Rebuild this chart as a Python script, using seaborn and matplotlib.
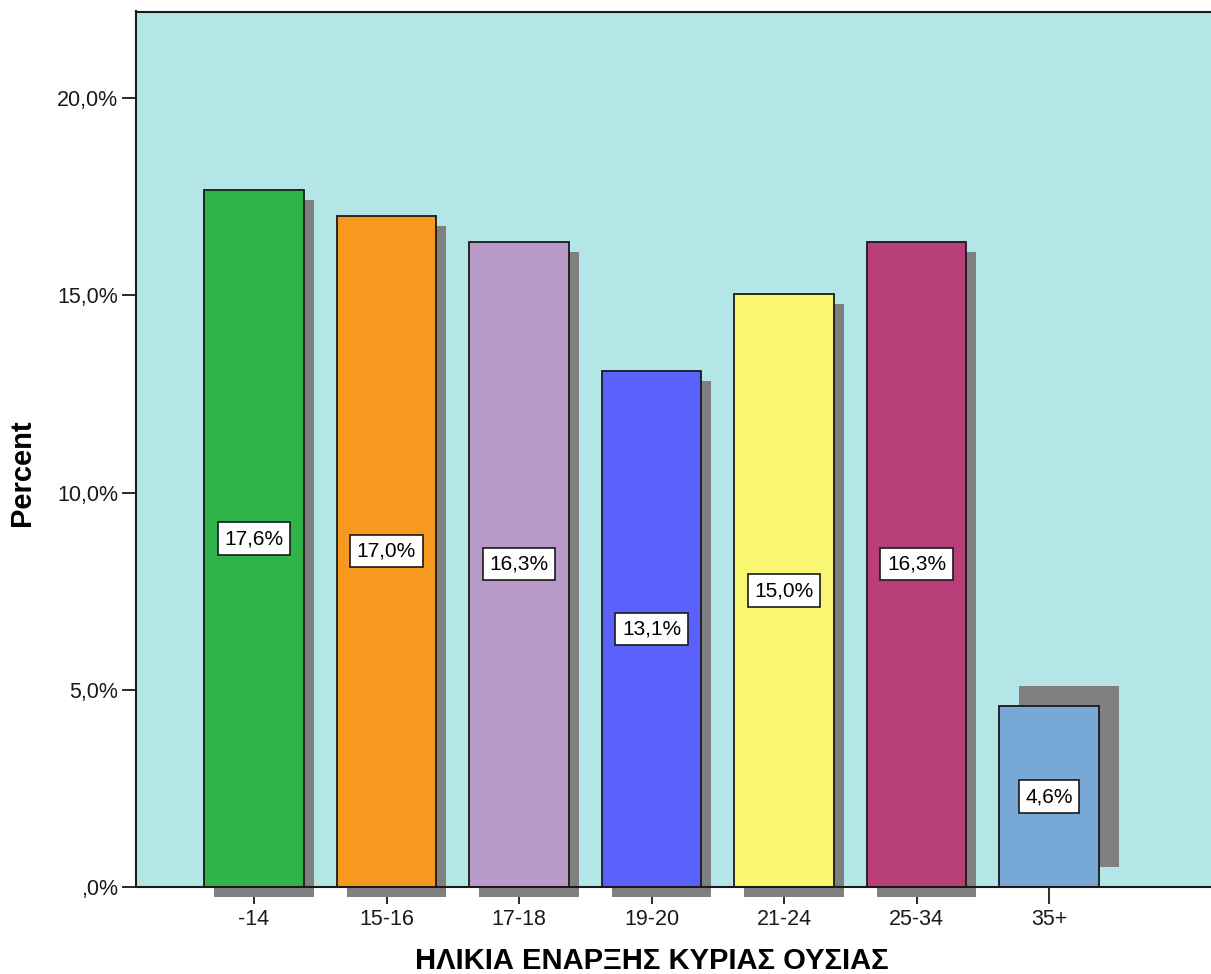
import matplotlib
matplotlib.use("Agg")
import matplotlib.pyplot as plt
import matplotlib.patheffects as pe
import seaborn as sns
import pandas as pd

categories = ["-14", "15-16", "17-18", "19-20", "21-24", "25-34", "35+"]
percents = [17.66, 17.02, 16.36, 13.08, 15.03, 16.36, 4.58]
value_labels = ["17,6%", "17,0%", "16,3%", "13,1%", "15,0%", "16,3%", "4,6%"]
ytick_values = [0, 5, 10, 15, 20]
ytick_labels = [",0%", "5,0%", "10,0%", "15,0%", "20,0%"]
colors = ["#2fb44a", "#f7981f", "#b89ac8", "#5b61fd", "#f9f672", "#b83f79", "#78a8d6"]
# shadow offsets in points (dx, dy)
shadow_offsets = [(7.2, -7.2)] * 6 + [(14.4, 14.4)]

df = pd.DataFrame({"age": pd.Categorical(categories, categories=categories, ordered=True),
                   "pct": percents})

plt.rcParams["font.family"] = ["Liberation Sans", "DejaVu Sans"]

fig = plt.figure(figsize=(12.11, 9.74), dpi=100)
W, H = 1211, 974
ax_left, ax_right, ax_top, ax_bottom = 136, 1214, 11.5, 887
ax = fig.add_axes([ax_left / W, 1 - ax_bottom / H, (ax_right - ax_left) / W, (ax_bottom - ax_top) / H])
ax.set_facecolor("#b4e6e8")

sns.barplot(data=df, x="age", y="pct", hue="age", palette=colors, order=categories,
            hue_order=categories, legend=False, width=0.75, saturation=1,
            edgecolor="#1a1a1a", linewidth=1.3, ax=ax, zorder=2)

for patch, off in zip(ax.patches, shadow_offsets):
    patch.set_clip_on(False)
    patch.set_path_effects([pe.SimplePatchShadow(offset=off, shadow_rgbFace="#808080", alpha=1.0),
                            pe.Normal()])

for i, (v, lab) in enumerate(zip(percents, value_labels)):
    ax.text(i, v / 2, lab, ha="center", va="center", fontsize=15, color="black", zorder=5,
            bbox=dict(boxstyle="square,pad=0.32", facecolor="white", edgecolor="#1a1a1a", linewidth=1.2))

ax.set_xlim((ax_left - 254) / 132.5, (ax_right - 254) / 132.5)
ax.set_ylim(0, (ax_bottom - ax_top) / 39.45)
ax.set_yticks(ytick_values)
ax.set_yticklabels(ytick_labels)

ax.tick_params(axis="y", length=10, width=1.3, pad=3, labelsize=15.5, colors="#1a1a1a")
ax.tick_params(axis="x", length=12, width=1.3, pad=4, labelsize=15.5, colors="#1a1a1a")

for side in ["left", "bottom", "top"]:
    ax.spines[side].set_color("#1a1a1a")
    ax.spines[side].set_linewidth(1.5)
    ax.spines[side].set_zorder(6)
ax.spines["right"].set_visible(False)

ax.set_xlabel("ΗΛΙΚΙΑ ΕΝΑΡΞΗΣ ΚΥΡΙΑΣ ΟΥΣΙΑΣ", fontsize=21, fontweight="bold", color="black")
ax.set_ylabel("Percent", fontsize=21, fontweight="bold", color="black")
ax.xaxis.set_label_coords((651.5 - ax_left) / (ax_right - ax_left), (ax_bottom - 947) / (ax_bottom - ax_top))
ax.yaxis.set_label_coords((36 - ax_left) / (ax_right - ax_left), (ax_bottom - 473) / (ax_bottom - ax_top))

fig.savefig("out.png", dpi=100)
